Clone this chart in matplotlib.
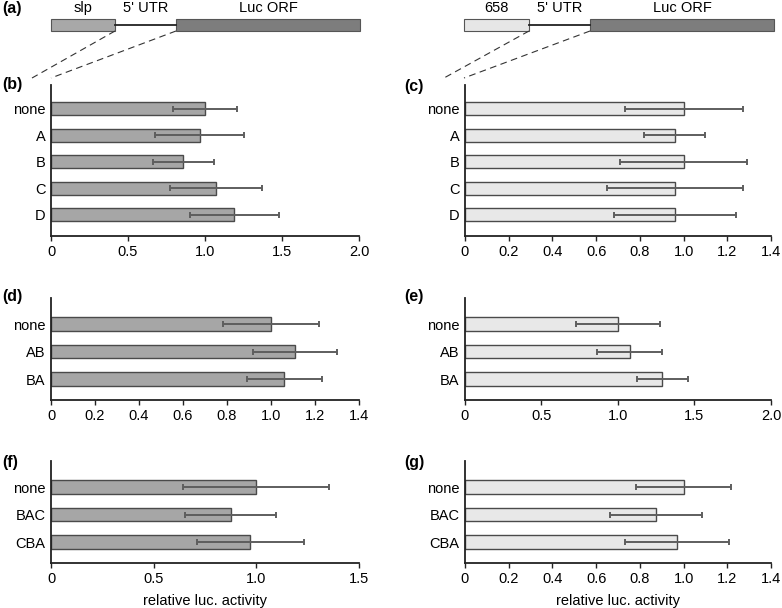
import numpy as np
import matplotlib.pyplot as plt
from matplotlib.patches import Rectangle

plt.rcParams['font.family'] = ['Liberation Sans', 'DejaVu Sans']

# panel data
cats_bc = ['none', 'A', 'B', 'C', 'D']
b_vals = [1.00, 0.965, 0.86, 1.07, 1.19]
b_err = [0.21, 0.29, 0.20, 0.30, 0.29]
c_vals = [1.00, 0.96, 1.00, 0.96, 0.96]
c_err = [0.27, 0.14, 0.29, 0.31, 0.28]

cats_de = ['none', 'AB', 'BA']
d_vals = [1.00, 1.11, 1.06]
d_err = [0.22, 0.19, 0.17]
e_vals = [1.00, 1.076, 1.29]
e_err = [0.275, 0.21, 0.167]

cats_fg = ['none', 'BAC', 'CBA']
f_vals = [1.00, 0.875, 0.97]
f_err = [0.355, 0.22, 0.26]
g_vals = [1.00, 0.875, 0.97]
g_err = [0.217, 0.21, 0.24]

dark = '#a6a6a6'
light = '#e8e8e8'
edge = '#4a4a4a'
errc = '#5e5e5e'

W, H = 782, 608
fig = plt.figure(figsize=(W / 100, H / 100), dpi=100)


def add_ax(x0, x1, top, bottom):
    return fig.add_axes([x0 / W, 1 - bottom / H, (x1 - x0) / W, (bottom - top) / H])


def bars(ax, cats, vals, err, color, xmax, ticks, ticklabels, ylim):
    y = np.arange(len(cats))
    ax.barh(y, vals, height=0.5, color=color, edgecolor=edge, linewidth=1.0)
    ax.errorbar(vals, y, xerr=err, fmt='none', ecolor=errc, elinewidth=1.4,
                capsize=2.5, capthick=1.4)
    ax.set_yticks(y)
    ax.set_yticklabels(cats)
    ax.set_ylim(*ylim)
    ax.set_xlim(0, xmax)
    ax.set_xticks(ticks)
    ax.set_xticklabels(ticklabels)
    for s in ['top', 'right']:
        ax.spines[s].set_visible(False)
    for s in ['left', 'bottom']:
        ax.spines[s].set_linewidth(1.3)
        ax.spines[s].set_color('#222222')
    ax.tick_params(axis='y', length=0, pad=4, labelsize=10.5)
    ax.tick_params(axis='x', length=3.5, width=1.0, pad=3, labelsize=10.5, color='#222222')


t20 = [0, 0.5, 1.0, 1.5, 2.0]
l20 = ['0', '0.5', '1.0', '1.5', '2.0']
t14 = [0, 0.2, 0.4, 0.6, 0.8, 1.0, 1.2, 1.4]
l14 = ['0', '0.2', '0.4', '0.6', '0.8', '1.0', '1.2', '1.4']
t15 = [0, 0.5, 1.0, 1.5]
l15 = ['0', '0.5', '1.0', '1.5']

ax_b = add_ax(51, 359, 85, 236)
bars(ax_b, cats_bc, b_vals, b_err, dark, 2.0, t20, l20, (4.8, -0.9))
ax_c = add_ax(465, 771, 85, 236)
bars(ax_c, cats_bc, c_vals, c_err, light, 1.4, t14, l14, (4.8, -0.9))

ax_d = add_ax(51, 359, 298, 400)
bars(ax_d, cats_de, d_vals, d_err, dark, 1.4, t14, l14, (2.76, -0.95))
ax_e = add_ax(465, 771, 298, 400)
bars(ax_e, cats_de, e_vals, e_err, light, 2.0, t20, l20, (2.76, -0.95))

ax_f = add_ax(51, 359, 461, 563)
bars(ax_f, cats_fg, f_vals, f_err, dark, 1.5, t15, l15, (2.76, -0.95))
ax_g = add_ax(465, 771, 461, 563)
bars(ax_g, cats_fg, g_vals, g_err, light, 1.4, t14, l14, (2.76, -0.95))

for ax in (ax_f, ax_g):
    ax.set_xlabel('relative luc. activity', fontsize=10.5, labelpad=6)

# schematic of constructs (pixel coordinates on an overlay)
ov = fig.add_axes([0, 0, 1, 1])
ov.set_xlim(0, W)
ov.set_ylim(H, 0)
ov.axis('off')
ov.patch.set_alpha(0)

promoters = ['slp', '658']
prom_colors = ['#a8a8a8', '#e6e6e6']
constructs = [(51, 115, 176, 360, 32, 51), (464, 529, 590, 774, 444, 464)]
for name, pc, (p0, p1, l0, l1, d0, d1) in zip(promoters, prom_colors, constructs):
    ov.add_patch(Rectangle((p0, 19), p1 - p0, 12, facecolor=pc, edgecolor='#555555', lw=0.8))
    ov.plot([p1, l0], [24.5, 24.5], color='#222222', lw=1.3)
    ov.add_patch(Rectangle((l0, 19), l1 - l0, 12, facecolor='#7d7d7d', edgecolor='#555555', lw=0.8))
    ov.text((p0 + p1) / 2, 8, name, ha='center', va='center', fontsize=10.5)
    ov.text((p1 + l0) / 2, 8, "5' UTR", ha='center', va='center', fontsize=10.5)
    ov.text((l0 + l1) / 2, 8, 'Luc ORF', ha='center', va='center', fontsize=10.5)
    ov.plot([p1, d0], [31, 78], color='#333333', lw=0.8, ls=(0, (6, 4)))
    ov.plot([l0, d1], [31, 78], color='#333333', lw=0.8, ls=(0, (6, 4)))

panel_labels = [('(a)', 2, 8), ('(b)', 2, 85), ('(c)', 404, 86),
                ('(d)', 2, 297), ('(e)', 404, 297), ('(f)', 2, 463), ('(g)', 404, 463)]
for lab, x, y in panel_labels:
    ov.text(x, y, lab, ha='left', va='center', fontsize=11.5, fontweight='bold')

fig.savefig('out.png', dpi=100)
